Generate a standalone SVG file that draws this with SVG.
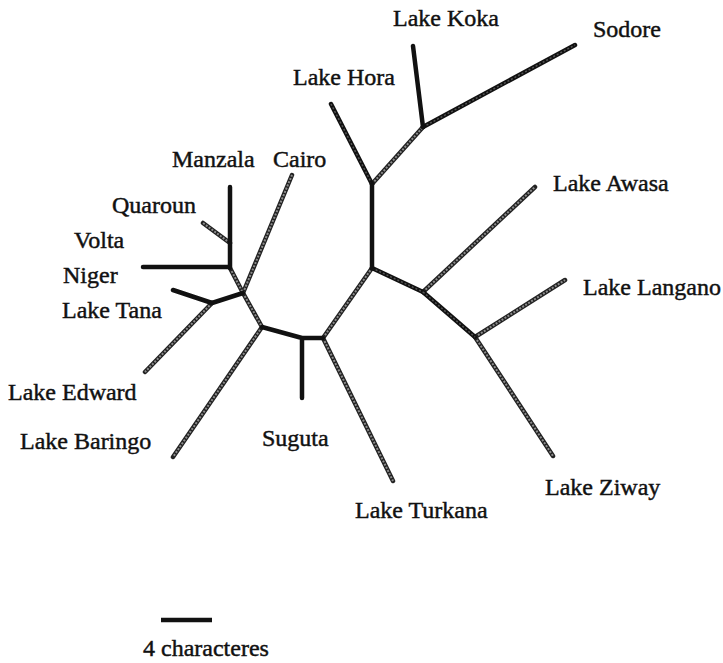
<svg xmlns="http://www.w3.org/2000/svg" width="723" height="663" viewBox="0 0 723 663">
<style>
text{font-family:"Liberation Serif","Times New Roman",serif;font-size:24px;fill:#111;stroke:#111;stroke-width:0.45}
.b{stroke:#111;stroke-width:4.5;fill:none;stroke-linecap:round;stroke-linejoin:round}
.go{stroke:#222;stroke-width:4.5;fill:none;stroke-linecap:round}
.gi{stroke:#8c8c8c;stroke-width:2;fill:none;stroke-dasharray:2 1.5}
.di{stroke:#555;stroke-width:1.5;fill:none;stroke-dasharray:2 2}
</style>
<rect width="723" height="663" fill="#fff"/>
<g id="connectors">
  <g id="gray-edges">
    <path class="go" d="M230,268L243,293 M243,293L292,175 M212,303L145,372 M243,293L262,327 M262,327L173,457 M323,338L372,268 M323,338L393,481 M423,292L535,187 M475,337L565,280 M475,337L553,456 M372,184L423,127 M230,243L203,223"/>
    <path class="gi" d="M230,268L243,293 M243,293L292,175 M212,303L145,372 M243,293L262,327 M262,327L173,457 M323,338L372,268 M323,338L393,481 M423,292L535,187 M475,337L565,280 M475,337L553,456 M372,184L423,127 M230,243L203,223"/>
  </g>
  <g id="dark-edges">
    <path class="b" d="M423,127L575,45 M372,184L331,104 M372,268L423,292 M423,292L475,337"/>
    <path class="di" d="M423,127L575,45 M372,184L331,104 M372,268L423,292 M423,292L475,337"/>
  </g>
  <g id="black-edges">
    <path class="b" d="M230,187L230,268 M143,267L230,267 M243,293L212,303 L173,290 M262,327L302,338 L323,338 M302,338L302,398 M372,268L372,184 M423,127L413,46"/>
  </g>
</g>
<g id="n-koka"><text x="393" y="26">Lake Koka</text></g>
<g id="n-sodore"><text x="593" y="37">Sodore</text></g>
<g id="n-hora"><text x="293" y="85">Lake Hora</text></g>
<g id="n-awasa"><text x="553" y="191">Lake Awasa</text></g>
<g id="n-langano"><text x="583" y="295">Lake Langano</text></g>
<g id="n-ziway"><text x="545" y="495">Lake Ziway</text></g>
<g id="n-turkana"><text x="355" y="518">Lake Turkana</text></g>
<g id="n-suguta"><text x="262" y="446">Suguta</text></g>
<g id="n-baringo"><text x="20" y="449">Lake Baringo</text></g>
<g id="n-edward"><text x="8" y="400">Lake Edward</text></g>
<g id="n-tana"><text x="62" y="318">Lake Tana</text></g>
<g id="n-niger"><text x="63" y="283">Niger</text></g>
<g id="n-volta"><text x="74" y="248">Volta</text></g>
<g id="n-quaroun"><text x="112" y="213">Quaroun</text></g>
<g id="n-manzala"><text x="172" y="167">Manzala</text></g>
<g id="n-cairo"><text x="273" y="167">Cairo</text></g>
<g id="scale">
  <line class="b" x1="161" y1="620" x2="212" y2="620" style="stroke-linecap:butt"/>
  <text x="143" y="656">4 characteres</text>
</g>
</svg>
